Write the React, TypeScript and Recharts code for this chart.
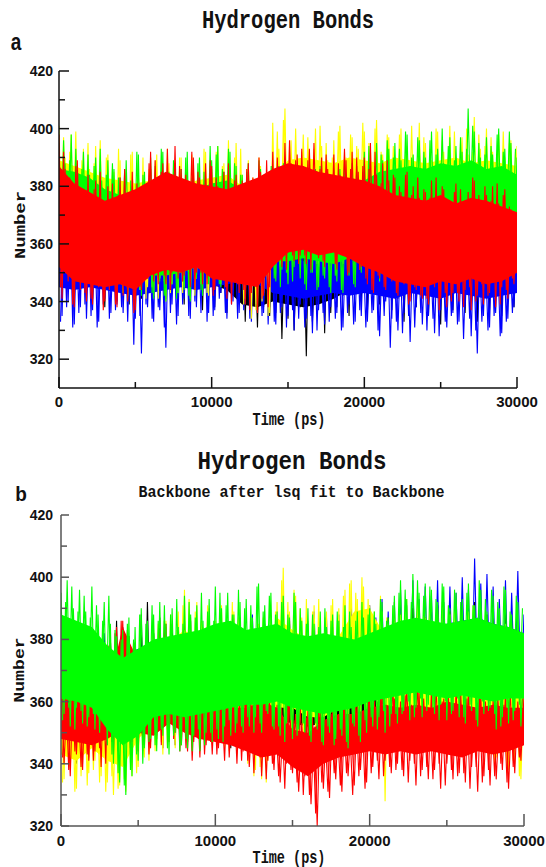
import React from 'react';
import { ComposedChart, Line, Area, XAxis, YAxis } from 'recharts';

// sampling grids (ps)
const TIME_STEP_PS = 200;
const SAMPLE_COUNT = 151;
const TIME_PS = Array.from({ length: SAMPLE_COUNT }, (_, i) => i * TIME_STEP_PS);
const TIME_PS_ODD = Array.from({ length: SAMPLE_COUNT - 1 }, (_, i) => 100 + i * TIME_STEP_PS);
const CORE_STEP_PS = 1000;
const CORE_COUNT = 31;
const CORE_TIME_PS = Array.from({ length: CORE_COUNT }, (_, i) => i * CORE_STEP_PS);

const X_TICKS = [0, 5000, 10000, 15000, 20000, 25000, 30000];
const X_MAJOR = [0, 10000, 20000, 30000];
const Y_TICKS = [320, 330, 340, 350, 360, 370, 380, 390, 400, 410, 420];
const Y_MAJOR = [320, 340, 360, 380, 400, 420];

// ================= Panel a : fluctuating traces (even 200 ps frames) =================
const blackA = [
  388, 342, 382, 346, 385, 340, 379, 348, 384, 343,
  377, 341, 383, 345, 372, 338, 380, 347, 375, 340,
  382, 344, 374, 339, 385, 346, 378, 341, 373, 347,
  386, 343, 379, 349, 384, 341, 376, 346, 388, 344,
  380, 339, 385, 346, 373, 342, 381, 337, 377, 345,
  376, 338, 382, 343, 370, 336, 379, 344, 372, 339,
  371, 333, 377, 340, 366, 331, 374, 338, 368, 335,
  369, 336, 373, 327, 366, 334, 372, 330, 365, 338,
  370, 321, 375, 333, 366, 339, 377, 329, 371, 336,
  373, 338, 379, 342, 369, 335, 376, 344, 372, 340,
  378, 336, 371, 343, 380, 339, 368, 345, 375, 337,
  372, 341, 377, 333, 367, 344, 375, 338, 369, 342,
  376, 335, 368, 343, 374, 332, 378, 340, 366, 337,
  371, 344, 375, 336, 369, 341, 377, 333, 372, 343,
  368, 337, 374, 342, 366, 335, 376, 340, 370, 338,
  365,
];
const blueA = [
  380, 335, 374, 340, 378, 332, 371, 338, 376, 334,
  369, 337, 375, 333, 370, 341, 377, 336, 368, 339,
  373, 336, 366, 340, 374, 334, 369, 322, 371, 338,
  367, 333, 374, 337, 365, 324, 372, 339, 368, 335,
  376, 341, 370, 334, 377, 338, 369, 342, 374, 336,
  371, 337, 366, 343, 373, 334, 368, 340, 375, 336,
  368, 339, 373, 333, 366, 341, 371, 336, 367, 338,
  365, 332, 370, 338, 364, 335, 372, 330, 366, 339,
  369, 334, 363, 329, 370, 337, 365, 332, 368, 338,
  364, 336, 370, 331, 362, 339, 367, 333, 371, 335,
  366, 333, 360, 337, 368, 328, 363, 340, 365, 334,
  370, 330, 362, 336, 367, 326, 364, 338, 369, 332,
  361, 335, 368, 329, 363, 337, 366, 331, 360, 336,
  367, 333, 362, 338, 370, 328, 364, 322, 366, 335,
  363, 331, 368, 336, 361, 329, 367, 334, 364, 338,
  360,
];
const yellowA = [
  401, 352, 390, 356, 398, 349, 388, 355, 393, 350,
  386, 347, 394, 353, 383, 346, 391, 351, 385, 348,
  389, 343, 381, 349, 392, 341, 384, 347, 380, 345,
  387, 342, 391, 348, 382, 340, 388, 346, 384, 343,
  390, 345, 383, 341, 389, 348, 381, 344, 392, 342,
  386, 350, 394, 346, 388, 353, 385, 348, 395, 351,
  384, 341, 389, 334, 381, 338, 387, 343, 382, 336,
  402, 355, 393, 360, 407, 353, 396, 358, 390, 362,
  398, 354, 391, 359, 400, 352, 394, 361, 389, 355,
  396, 358, 401, 353, 390, 360, 397, 355, 393, 357,
  399, 356, 393, 362, 403, 358, 391, 360, 397, 355,
  390, 361, 400, 357, 394, 363, 388, 359, 402, 356,
  395, 360, 389, 364, 399, 357, 392, 362, 401, 358,
  388, 363, 397, 356, 391, 361, 404, 359, 393, 364,
  400, 358, 392, 362, 398, 357, 390, 363, 396, 360,
  394,
];
const greenA = [
  395, 352, 388, 356, 398, 350, 386, 357, 392, 349,
  384, 347, 390, 352, 382, 345, 389, 350, 386, 348,
  383, 343, 389, 350, 380, 345, 391, 342, 385, 348,
  390, 341, 383, 347, 392, 340, 385, 346, 388, 343,
  386, 344, 392, 340, 384, 348, 390, 342, 383, 346,
  389, 348, 394, 345, 385, 352, 392, 347, 387, 350,
  384, 350, 388, 346, 380, 353, 386, 348, 382, 351,
  381, 347, 387, 351, 379, 346, 385, 352, 380, 348,
  383, 344, 378, 350, 386, 345, 380, 348, 384, 343,
  380, 347, 386, 343, 381, 349, 388, 345, 383, 350,
  392, 349, 386, 353, 395, 347, 389, 355, 393, 351,
  395, 358, 389, 362, 398, 356, 391, 360, 396, 357,
  390, 361, 399, 357, 393, 363, 388, 359, 397, 356,
  394, 362, 392, 358, 407, 364, 399, 357, 390, 361,
  397, 359, 391, 363, 400, 357, 393, 362, 395, 358,
  390,
];
const redA = [
  398, 341, 386, 347, 381, 338, 389, 344, 379, 340,
  376, 339, 382, 345, 373, 340, 380, 347, 374, 338,
  383, 342, 371, 346, 385, 337, 377, 344, 372, 348,
  392, 347, 382, 351, 388, 346, 384, 350, 394, 348,
  386, 349, 381, 345, 390, 350, 383, 346, 388, 351,
  387, 344, 380, 348, 385, 341, 378, 347, 384, 343,
  382, 339, 388, 343, 380, 336, 385, 342, 389, 345,
  392, 355, 386, 352, 395, 357, 388, 354, 391, 356,
  387, 353, 393, 358, 385, 355, 390, 352, 386, 357,
  391, 351, 384, 356, 389, 350, 392, 354, 385, 352,
  390, 346, 395, 343, 384, 348, 388, 344, 382, 347,
  383, 342, 378, 346, 385, 340, 380, 344, 376, 341,
  378, 339, 382, 345, 374, 341, 379, 338, 375, 343,
  381, 340, 373, 344, 378, 337, 382, 342, 374, 339,
  377, 343, 380, 338, 374, 345, 379, 341, 372, 346,
  368,
];

// ================= Panel a : fluctuating traces (odd frames, 100 ps + k*200 ps) =================
const blueA2 = [
  333, 372, 338, 377, 331, 370, 336, 375, 339, 369,
  335, 374, 331, 368, 339, 376, 334, 371, 337, 366,
  338, 372, 333, 369, 325, 375, 335, 367, 339, 371,
  334, 370, 338, 366, 331, 373, 336, 368, 332, 374,
  339, 375, 335, 371, 340, 369, 336, 376, 333, 372,
  335, 372, 341, 367, 336, 374, 339, 369, 334, 370,
  337, 369, 334, 374, 339, 366, 335, 372, 332, 367,
  333, 368, 336, 373, 331, 366, 337, 370, 334, 364,
  331, 367, 335, 371, 330, 364, 336, 369, 333, 366,
  334, 365, 330, 369, 336, 363, 332, 368, 337, 362,
  331, 364, 336, 369, 330, 362, 335, 367, 324, 363,
  333, 368, 329, 363, 335, 366, 331, 361, 336, 365,
  330, 362, 334, 367, 328, 364, 333, 360, 335, 366,
  332, 365, 327, 361, 334, 368, 330, 363, 333, 360,
  330, 366, 335, 362, 328, 364, 333, 361, 336, 363,
];
const yellowA2 = [
  355, 397, 351, 392, 357, 399, 352, 389, 356, 395,
  349, 388, 354, 396, 348, 390, 352, 386, 347, 393,
  346, 385, 342, 391, 348, 383, 344, 390, 341, 386,
  345, 389, 341, 384, 347, 393, 343, 386, 348, 390,
  343, 386, 347, 391, 342, 384, 346, 393, 343, 387,
  352, 392, 348, 387, 354, 396, 350, 390, 347, 393,
  339, 386, 343, 383, 337, 390, 340, 379, 335, 385,
  357, 399, 352, 403, 359, 394, 354, 400, 360, 392,
  356, 397, 360, 393, 353, 401, 358, 395, 354, 390,
  359, 399, 354, 392, 361, 398, 356, 394, 359, 402,
  357, 395, 361, 400, 355, 392, 359, 398, 362, 394,
  360, 398, 356, 391, 362, 401, 358, 393, 361, 397,
  359, 393, 363, 400, 358, 396, 361, 390, 357, 399,
  362, 395, 357, 400, 364, 392, 359, 398, 361, 394,
  359, 397, 363, 391, 358, 399, 362, 395, 357, 392,
];
const greenA2 = [
  353, 396, 357, 389, 350, 393, 355, 386, 358, 391,
  349, 387, 353, 393, 346, 384, 351, 388, 345, 383,
  346, 386, 341, 382, 348, 392, 344, 384, 349, 381,
  343, 387, 348, 393, 342, 384, 347, 389, 341, 382,
  347, 390, 342, 383, 349, 388, 344, 385, 348, 394,
  350, 391, 346, 386, 353, 393, 348, 388, 351, 384,
  349, 385, 353, 381, 347, 389, 352, 383, 350, 387,
  348, 383, 345, 388, 350, 380, 347, 386, 353, 382,
  346, 385, 350, 379, 344, 387, 349, 381, 345, 383,
  349, 382, 344, 389, 350, 384, 346, 387, 351, 385,
  352, 394, 348, 387, 354, 391, 350, 396, 356, 390,
  357, 393, 361, 399, 355, 390, 359, 397, 362, 392,
  358, 396, 362, 391, 356, 400, 360, 394, 364, 389,
  360, 397, 356, 393, 363, 401, 358, 395, 362, 391,
  356, 394, 361, 398, 358, 392, 363, 399, 357, 393,
];
const redA2 = [
  345, 392, 350, 383, 339, 387, 348, 376, 343, 384,
  341, 379, 346, 385, 337, 374, 344, 381, 339, 377,
  347, 386, 340, 375, 336, 381, 345, 373, 350, 388,
  352, 389, 346, 385, 349, 393, 344, 380, 351, 387,
  347, 384, 352, 392, 344, 385, 350, 380, 346, 389,
  342, 383, 349, 377, 345, 388, 339, 382, 346, 379,
  344, 386, 337, 383, 346, 390, 341, 379, 338, 384,
  354, 390, 358, 385, 351, 396, 356, 389, 353, 393,
  356, 389, 351, 395, 359, 386, 354, 391, 358, 384,
  353, 388, 357, 393, 349, 386, 355, 390, 351, 387,
  348, 386, 344, 392, 349, 381, 345, 389, 350, 384,
  343, 380, 347, 384, 339, 377, 345, 383, 342, 379,
  341, 376, 346, 383, 337, 380, 343, 373, 340, 378,
  343, 379, 338, 375, 345, 383, 340, 377, 346, 380,
  342, 375, 347, 381, 339, 377, 344, 373, 348, 370,
];

// ================= Panel a : dense core of each trace (every 1000 ps) =================
const blackCoreLoA = [349, 347, 348, 346, 347, 348, 347, 346, 348, 347, 346, 344, 339, 338, 340, 339, 338, 339, 341, 344, 345, 344, 345, 344, 343, 345, 344, 343, 344, 345, 346];
const blackCoreHiA = [374, 372, 371, 370, 372, 371, 373, 372, 371, 370, 368, 366, 360, 358, 359, 358, 357, 358, 361, 364, 365, 364, 363, 364, 362, 363, 364, 362, 363, 364, 362];
const blueCoreLoA = [345, 344, 345, 344, 343, 342, 343, 344, 345, 344, 345, 346, 347, 346, 343, 342, 341, 342, 343, 342, 343, 342, 341, 343, 342, 341, 343, 342, 341, 342, 343];
const blueCoreHiA = [362, 361, 360, 361, 359, 358, 360, 359, 361, 360, 359, 360, 358, 359, 356, 355, 354, 355, 356, 354, 355, 353, 354, 355, 353, 354, 352, 353, 354, 352, 353];
const yellowCoreLoA = [361, 360, 359, 357, 356, 355, 354, 354, 353, 354, 355, 354, 352, 345, 356, 366, 367, 366, 368, 367, 366, 367, 368, 366, 367, 368, 366, 367, 368, 367, 366];
const yellowCoreHiA = [389, 387, 385, 383, 382, 381, 382, 381, 380, 382, 383, 384, 380, 372, 382, 389, 390, 389, 388, 390, 389, 388, 390, 389, 388, 389, 390, 388, 389, 388, 387];
const greenCoreLoA = [360, 360, 358, 354, 352, 350, 349, 349, 350, 352, 354, 355, 356, 354, 354, 354, 355, 354, 353, 355, 360, 362, 364, 365, 366, 364, 365, 366, 365, 364, 364];
const greenCoreHiA = [386, 385, 383, 379, 377, 376, 376, 378, 377, 379, 381, 382, 379, 376, 376, 377, 376, 376, 375, 377, 382, 385, 386, 387, 386, 388, 387, 389, 386, 387, 384];
const redCoreLoA = [352, 347, 346, 345, 346, 344, 349, 351, 350, 352, 348, 347, 346, 345, 352, 357, 358, 356, 357, 355, 352, 350, 347, 346, 345, 347, 346, 348, 346, 347, 350];
const redCoreHiA = [387, 381, 378, 375, 377, 379, 382, 385, 383, 381, 380, 379, 381, 383, 386, 388, 387, 385, 384, 383, 382, 380, 377, 376, 375, 377, 374, 376, 375, 373, 371];

// ================= Panel b : fluctuating traces (even 200 ps frames) =================
const blueB = [
  378, 348, 383, 352, 375, 346, 381, 350, 377, 349,
  380, 347, 374, 351, 382, 345, 376, 349, 379, 352,
  375, 346, 381, 350, 377, 348, 383, 352, 379, 349,
  382, 350, 377, 353, 384, 349, 379, 351, 385, 352,
  380, 348, 386, 352, 378, 347, 383, 351, 381, 349,
  384, 351, 379, 355, 386, 350, 381, 353, 387, 352,
  382, 350, 388, 354, 380, 349, 385, 352, 383, 351,
  386, 353, 381, 356, 388, 351, 384, 355, 382, 352,
  385, 352, 389, 355, 383, 350, 387, 354, 384, 353,
  388, 354, 384, 357, 390, 353, 386, 356, 389, 355,
  391, 356, 387, 359, 393, 355, 389, 358, 392, 357,
  396, 359, 391, 362, 399, 358, 393, 361, 397, 360,
  394, 361, 399, 358, 392, 363, 397, 360, 395, 362,
  400, 362, 396, 359, 406, 364, 398, 361, 401, 363,
  397, 360, 393, 364, 399, 359, 395, 362, 402, 361,
  388,
];
const blackB = [
  383, 343, 377, 347, 385, 340, 379, 345, 374, 342,
  378, 346, 382, 341, 375, 348, 380, 344, 386, 340,
  384, 338, 381, 342, 379, 346, 388, 344, 392, 347,
  382, 349, 387, 345, 380, 350, 385, 346, 383, 351,
  386, 347, 380, 351, 384, 345, 379, 350, 382, 348,
  381, 346, 385, 350, 378, 345, 383, 349, 380, 347,
  379, 344, 384, 348, 377, 341, 382, 346, 378, 343,
  383, 345, 378, 350, 386, 344, 380, 348, 376, 346,
  380, 343, 385, 347, 377, 341, 382, 345, 379, 348,
  384, 346, 379, 350, 386, 344, 381, 348, 383, 345,
  382, 349, 386, 345, 380, 351, 387, 347, 381, 350,
  388, 351, 383, 348, 390, 353, 385, 349, 387, 352,
  385, 350, 391, 347, 384, 352, 389, 348, 386, 351,
  390, 349, 384, 353, 392, 347, 386, 351, 388, 348,
  387, 350, 383, 346, 389, 352, 385, 348, 382, 351,
  370,
];
const yellowB = [
  372, 335, 378, 338, 368, 332, 375, 340, 370, 337,
  376, 341, 369, 336, 373, 334, 367, 330, 371, 333,
  374, 331, 368, 336, 377, 339, 371, 342, 380, 345,
  383, 346, 378, 343, 386, 348, 380, 345, 389, 347,
  396, 347, 387, 350, 392, 344, 384, 349, 390, 346,
  386, 348, 391, 345, 384, 350, 389, 343, 385, 347,
  383, 343, 379, 338, 385, 335, 381, 341, 388, 346,
  392, 349, 403, 345, 389, 351, 394, 347, 387, 350,
  386, 346, 391, 349, 384, 344, 389, 348, 393, 345,
  390, 351, 396, 347, 399, 354, 393, 349, 397, 352,
  391, 348, 386, 352, 389, 328, 385, 350, 392, 347,
  388, 351, 393, 346, 385, 353, 390, 348, 387, 350,
  385, 347, 390, 352, 383, 345, 388, 350, 386, 348,
  384, 346, 389, 351, 382, 344, 387, 349, 385, 343,
  383, 342, 378, 345, 385, 338, 380, 340, 376, 335,
  368,
];
const redB = [
  368, 340, 363, 336, 370, 343, 365, 338, 372, 341,
  366, 344, 371, 339, 374, 346, 380, 343, 384, 348,
  386, 350, 381, 347, 377, 344, 372, 349, 368, 345,
  375, 348, 383, 352, 385, 347, 378, 350, 370, 346,
  367, 344, 372, 347, 365, 342, 369, 346, 364, 343,
  366, 345, 361, 341, 368, 346, 363, 340, 365, 344,
  362, 339, 358, 343, 364, 336, 360, 341, 357, 338,
  359, 334, 355, 340, 361, 337, 356, 331, 353, 336,
  357, 327, 352, 320, 358, 332, 354, 329, 360, 335,
  356, 331, 361, 336, 354, 333, 359, 338, 355, 334,
  362, 339, 357, 335, 364, 341, 358, 337, 361, 340,
  360, 336, 365, 341, 358, 333, 363, 338, 357, 335,
  363, 338, 358, 332, 361, 340, 356, 335, 364, 337,
  359, 334, 364, 339, 357, 331, 362, 336, 358, 333,
  361, 335, 356, 338, 363, 332, 358, 337, 360, 341,
  362,
];
const greenB = [
  395, 356, 399, 352, 390, 358, 396, 353, 389, 355,
  397, 351, 388, 357, 392, 346, 385, 340, 381, 334,
  383, 330, 387, 336, 384, 341, 390, 345, 386, 348,
  388, 344, 392, 349, 385, 343, 390, 350, 384, 346,
  394, 345, 388, 349, 391, 344, 386, 350, 393, 347,
  397, 348, 390, 352, 395, 349, 388, 353, 392, 350,
  393, 352, 387, 355, 398, 350, 391, 356, 395, 351,
  389, 349, 394, 353, 387, 348, 392, 351, 386, 350,
  390, 347, 385, 351, 389, 346, 384, 350, 388, 348,
  386, 349, 391, 345, 384, 352, 389, 347, 387, 350,
  390, 352, 385, 355, 392, 350, 387, 356, 394, 353,
  399, 357, 393, 354, 401, 358, 395, 355, 398, 359,
  396, 356, 392, 359, 397, 354, 390, 357, 395, 355,
  393, 353, 398, 357, 391, 352, 396, 356, 389, 358,
  394, 351, 390, 355, 396, 353, 388, 357, 392, 352,
  375,
];

// ================= Panel b : fluctuating traces (odd frames) =================
const yellowB2 = [
  334, 375, 339, 370, 331, 377, 336, 372, 333, 374,
  338, 371, 334, 375, 331, 369, 336, 373, 332, 368,
  335, 376, 340, 371, 337, 379, 343, 374, 341, 383,
  344, 385, 347, 381, 345, 388, 349, 383, 346, 391,
  349, 393, 345, 389, 348, 386, 351, 391, 347, 384,
  346, 389, 350, 385, 344, 392, 349, 387, 345, 383,
  340, 386, 336, 382, 339, 387, 334, 383, 342, 389,
  347, 399, 351, 392, 346, 396, 350, 390, 348, 393,
  344, 389, 349, 393, 345, 387, 350, 391, 343, 386,
  353, 394, 348, 398, 352, 395, 356, 400, 350, 393,
  350, 389, 346, 394, 351, 387, 349, 390, 345, 388,
  349, 391, 352, 386, 347, 394, 351, 389, 346, 392,
  350, 388, 346, 392, 351, 385, 347, 390, 349, 384,
  348, 386, 345, 391, 350, 384, 346, 388, 342, 382,
  340, 381, 344, 377, 337, 383, 341, 379, 336, 374,
];
const redB2 = [
  342, 365, 338, 371, 344, 362, 339, 369, 343, 366,
  341, 368, 345, 373, 340, 378, 347, 382, 344, 386,
  348, 383, 345, 379, 350, 374, 346, 370, 343, 367,
  350, 380, 346, 386, 351, 381, 348, 374, 344, 368,
  345, 370, 341, 366, 348, 371, 343, 363, 347, 368,
  343, 364, 347, 369, 342, 362, 348, 366, 341, 363,
  341, 360, 337, 366, 342, 359, 335, 362, 340, 356,
  336, 358, 332, 362, 338, 354, 334, 359, 330, 355,
  330, 355, 324, 359, 334, 351, 331, 356, 337, 353,
  333, 358, 337, 353, 330, 360, 336, 357, 332, 362,
  337, 360, 341, 363, 336, 359, 339, 365, 338, 358,
  338, 362, 334, 359, 340, 366, 336, 361, 339, 358,
  335, 365, 340, 360, 333, 362, 338, 358, 336, 363,
  337, 361, 332, 358, 339, 363, 334, 360, 338, 357,
  336, 362, 340, 359, 334, 364, 339, 357, 342, 361,
];
const greenB2 = [
  354, 392, 358, 397, 351, 389, 357, 394, 352, 387,
  356, 391, 350, 386, 353, 394, 343, 383, 337, 380,
  333, 385, 338, 380, 343, 388, 340, 385, 347, 391,
  346, 386, 351, 391, 345, 388, 349, 393, 344, 385,
  348, 392, 344, 387, 351, 395, 346, 389, 350, 386,
  351, 395, 347, 391, 354, 388, 350, 396, 352, 390,
  355, 391, 350, 397, 353, 389, 357, 394, 352, 388,
  352, 392, 347, 388, 354, 395, 349, 390, 353, 385,
  349, 388, 353, 384, 347, 390, 352, 386, 346, 389,
  351, 384, 347, 389, 353, 386, 349, 392, 354, 388,
  355, 389, 351, 393, 357, 386, 352, 391, 356, 395,
  356, 396, 360, 392, 355, 399, 361, 394, 357, 397,
  358, 393, 354, 398, 360, 391, 356, 396, 361, 392,
  355, 395, 359, 391, 354, 399, 360, 393, 357, 396,
  356, 392, 352, 397, 358, 389, 354, 394, 359, 390,
];

// ================= Panel b : dense core of each trace (every 1000 ps) =================
const blueCoreLoB = [358, 357, 358, 359, 357, 358, 359, 358, 357, 359, 358, 359, 358, 357, 359, 358, 359, 358, 360, 359, 362, 364, 367, 368, 369, 368, 370, 369, 368, 369, 368];
const blueCoreHiB = [376, 375, 376, 374, 375, 377, 376, 378, 377, 376, 378, 377, 379, 378, 377, 378, 379, 378, 380, 379, 380, 382, 384, 385, 384, 385, 386, 387, 385, 384, 382];
const blackCoreLoB = [353, 352, 354, 353, 351, 353, 354, 355, 354, 353, 355, 354, 353, 352, 354, 353, 352, 353, 354, 355, 356, 357, 356, 358, 357, 356, 358, 357, 356, 357, 356];
const blackCoreHiB = [374, 373, 375, 374, 376, 375, 374, 376, 375, 374, 375, 376, 375, 374, 376, 375, 374, 375, 376, 377, 376, 378, 377, 379, 378, 377, 379, 378, 377, 376, 375];
const yellowCoreLoB = [343, 341, 345, 341, 339, 348, 353, 353, 354, 353, 354, 353, 352, 343, 358, 358, 355, 355, 358, 365, 365, 355, 353, 354, 353, 352, 353, 352, 351, 348, 348];
const yellowCoreHiB = [369, 367, 369, 365, 365, 375, 377, 379, 383, 379, 379, 380, 377, 373, 387, 383, 380, 379, 381, 389, 390, 381, 379, 380, 378, 379, 377, 378, 377, 376, 375];
const redCoreLoB = [348, 347, 346, 348, 351, 350, 349, 353, 350, 348, 347, 346, 344, 342, 343, 339, 336, 340, 342, 343, 344, 343, 344, 343, 344, 343, 342, 344, 343, 344, 346];
const redCoreHiB = [361, 360, 359, 363, 384, 373, 362, 378, 368, 360, 359, 358, 358, 360, 358, 351, 350, 354, 356, 356, 358, 359, 358, 359, 358, 360, 359, 358, 359, 358, 358];
const greenCoreLoB = [361, 360, 358, 351, 346, 349, 355, 356, 355, 356, 357, 358, 359, 359, 360, 358, 357, 356, 357, 358, 360, 361, 362, 363, 362, 361, 362, 361, 360, 361, 361];
const greenCoreHiB = [388, 386, 384, 378, 374, 377, 380, 381, 382, 383, 385, 386, 383, 384, 385, 382, 381, 382, 381, 380, 382, 384, 386, 387, 386, 385, 386, 387, 385, 384, 382];

const COLORS: Record<string, string> = {
  black: '#000000',
  blue: '#0000ff',
  yellow: '#ffff00',
  green: '#00ff00',
  red: '#ff0000',
};

const traceRows = (vals: number[]) => TIME_PS.map((t, i) => ({ t, v: vals[i] }));
const oddTraceRows = (vals: number[]) => TIME_PS_ODD.map((t, i) => ({ t, v: vals[i] }));
const coreRows = (lo: number[], hi: number[]) => CORE_TIME_PS.map((t, i) => ({ t, range: [lo[i], hi[i]] }));

// drawing order: first drawn at the bottom
const SERIES_A = [
  { key: 'black', trace: blackA, trace2: null, lo: blackCoreLoA, hi: blackCoreHiA },
  { key: 'blue', trace: blueA, trace2: blueA2, lo: blueCoreLoA, hi: blueCoreHiA },
  { key: 'yellow', trace: yellowA, trace2: yellowA2, lo: yellowCoreLoA, hi: yellowCoreHiA },
  { key: 'green', trace: greenA, trace2: greenA2, lo: greenCoreLoA, hi: greenCoreHiA },
  { key: 'red', trace: redA, trace2: redA2, lo: redCoreLoA, hi: redCoreHiA },
];
const SERIES_B = [
  { key: 'blue', trace: blueB, trace2: null, lo: blueCoreLoB, hi: blueCoreHiB },
  { key: 'black', trace: blackB, trace2: null, lo: blackCoreLoB, hi: blackCoreHiB },
  { key: 'yellow', trace: yellowB, trace2: yellowB2, lo: yellowCoreLoB, hi: yellowCoreHiB },
  { key: 'red', trace: redB, trace2: redB2, lo: redCoreLoB, hi: redCoreHiB },
  { key: 'green', trace: greenB, trace2: greenB2, lo: greenCoreLoB, hi: greenCoreHiB },
];

const SANS = '"Liberation Sans", Arial, sans-serif';
const MONO = '"Liberation Mono", "DejaVu Sans Mono", monospace';

type Side = 'bottom' | 'top' | 'left' | 'right';

const makeTick = (
  side: Side,
  major: number[],
  majorLen: number,
  minorLen: number,
  color: string,
  showLabel: boolean,
  labelOffset: number,
) => (props: any) => {
  const { x, y, payload } = props;
  const v = payload.value;
  const isMajor = major.includes(v);
  const L = isMajor ? majorLen : minorLen;
  let x2 = x;
  let y2 = y;
  if (side === 'bottom') y2 = y - L;
  if (side === 'top') y2 = y + L;
  if (side === 'left') x2 = x + L;
  if (side === 'right') x2 = x - L;
  let label = null;
  if (showLabel && isMajor) {
    if (side === 'bottom') {
      label = (
        <text x={x} y={y + labelOffset} textAnchor="middle" fontFamily={SANS} fontWeight="bold" fontSize={15} fill="#111">
          {v}
        </text>
      );
    } else if (side === 'left') {
      label = (
        <text x={x - labelOffset} y={y + 5} textAnchor="end" fontFamily={SANS} fontWeight="bold" fontSize={14} fill="#111">
          {v}
        </text>
      );
    }
  }
  return (
    <g>
      <line x1={x} y1={y} x2={x2} y2={y2} stroke={color} strokeWidth={1.5} />
      {label}
    </g>
  );
};

const Panel = ({ top, height, plot, series, yDomain, frame, xLabelOffset, yLabelOffset, xMajorLen, yMajorLen }: any) => {
  const overlayMargin = { top: plot.top, left: plot.left, right: 546 - plot.right, bottom: height - plot.bottom };
  return (
    <div style={{ position: 'absolute', left: 0, top, width: 546, height }}>
      {series.map((s: any) => (
        <div key={s.key} style={{ position: 'absolute', left: 0, top: 0 }}>
          <ComposedChart width={546} height={height} margin={overlayMargin}>
            <XAxis hide dataKey="t" type="number" domain={[0, 30000]} allowDataOverflow />
            <YAxis hide type="number" domain={yDomain} allowDataOverflow />
            <Area
              data={coreRows(s.lo, s.hi)}
              dataKey="range"
              type="linear"
              stroke="none"
              fill={COLORS[s.key]}
              fillOpacity={1}
              dot={false}
              activeDot={false}
              isAnimationActive={false}
            />
            <Line
              data={traceRows(s.trace)}
              dataKey="v"
              type="linear"
              stroke={COLORS[s.key]}
              strokeWidth={1.1}
              dot={false}
              activeDot={false}
              isAnimationActive={false}
            />
            {s.trace2 ? (
              <Line
                data={oddTraceRows(s.trace2)}
                dataKey="v"
                type="linear"
                stroke={COLORS[s.key]}
                strokeWidth={1.1}
                dot={false}
                activeDot={false}
                isAnimationActive={false}
              />
            ) : null}
          </ComposedChart>
        </div>
      ))}
      <div style={{ position: 'absolute', left: 0, top: 0 }}>
        <ComposedChart width={546} height={height} margin={{ top: plot.top, right: 546 - plot.right, bottom: 0, left: 0 }}>
          <XAxis
            xAxisId={0}
            dataKey="t"
            type="number"
            domain={[0, 30000]}
            allowDataOverflow
            ticks={X_TICKS}
            interval={0}
            height={height - plot.bottom}
            tickSize={0}
            tickMargin={0}
            tickLine={false}
            axisLine={{ stroke: frame, strokeWidth: 1.5 }}
            tick={makeTick('bottom', X_MAJOR, xMajorLen, 6, frame, true, xLabelOffset)}
          />
          <XAxis
            xAxisId="top"
            orientation="top"
            type="number"
            domain={[0, 30000]}
            allowDataOverflow
            ticks={X_TICKS}
            interval={0}
            height={0}
            tickSize={0}
            tickMargin={0}
            tickLine={false}
            axisLine={{ stroke: frame, strokeWidth: 1.5 }}
            tick={makeTick('top', X_MAJOR, xMajorLen, 6, frame, false, 0)}
          />
          <YAxis
            yAxisId={0}
            type="number"
            domain={yDomain}
            allowDataOverflow
            ticks={Y_TICKS}
            interval={0}
            width={plot.left}
            tickSize={0}
            tickMargin={0}
            tickLine={false}
            axisLine={{ stroke: frame, strokeWidth: 1.5 }}
            tick={makeTick('left', Y_MAJOR, yMajorLen, 6, frame, true, yLabelOffset)}
          />
          <YAxis
            yAxisId="right"
            orientation="right"
            type="number"
            domain={yDomain}
            allowDataOverflow
            ticks={Y_TICKS}
            interval={0}
            width={0}
            tickSize={0}
            tickMargin={0}
            tickLine={false}
            axisLine={{ stroke: frame, strokeWidth: 1.5 }}
            tick={makeTick('right', Y_MAJOR, yMajorLen, 6, frame, false, 0)}
          />
        </ComposedChart>
      </div>
    </div>
  );
};

const txt = (content: string, cx: number, cy: number, font: string, size: number, weight: string, transform: string) => (
  <div
    style={{
      position: 'absolute',
      left: cx,
      top: cy,
      transform: `translate(-50%, -50%) ${transform}`,
      fontFamily: font,
      fontSize: size,
      fontWeight: weight as any,
      whiteSpace: 'nowrap',
      lineHeight: 1,
      color: '#111',
    }}
  >
    {content}
  </div>
);

export default function App() {
  return (
    <div style={{ position: 'absolute', left: 0, top: 0, width: 546, height: 867, background: '#fff', overflow: 'hidden' }}>
      <Panel
        top={0}
        height={430}
        plot={{ left: 59, top: 71, right: 517, bottom: 388 }}
        series={SERIES_A}
        yDomain={[310, 420]}
        frame="#111"
        xLabelOffset={19}
        yLabelOffset={6}
        xMajorLen={11}
        yMajorLen={10}
      />
      <Panel
        top={440}
        height={427}
        plot={{ left: 61, top: 75, right: 524, bottom: 386 }}
        series={SERIES_B}
        yDomain={[320, 420]}
        frame="#555"
        xLabelOffset={20}
        yLabelOffset={8}
        xMajorLen={12}
        yMajorLen={8}
      />

      {txt('Hydrogen Bonds', 288, 22, MONO, 20.5, 'bold', 'scaleY(1.25)')}
      {txt('a', 16, 42, SANS, 19, 'bold', 'scaleY(1.3)')}
      {txt('Number', 21, 225, MONO, 14, 'bold', 'rotate(-90deg) scaleX(1.35)')}
      {txt('Time (ps)', 289, 421, MONO, 13.5, 'bold', 'scaleY(1.3)')}

      {txt('Hydrogen Bonds', 292, 462, MONO, 22.5, 'bold', 'scaleY(1.15)')}
      {txt('Backbone after lsq fit to Backbone', 291.5, 493, MONO, 15, 'bold', 'scaleY(1.15)')}
      {txt('b', 21, 494, SANS, 19, 'bold', 'scaleY(1.1)')}
      {txt('Number', 20, 670, MONO, 14, 'bold', 'rotate(-90deg) scaleX(1.3)')}
      {txt('Time (ps)', 289, 859, MONO, 13.5, 'bold', 'scaleY(1.3)')}
    </div>
  );
}
